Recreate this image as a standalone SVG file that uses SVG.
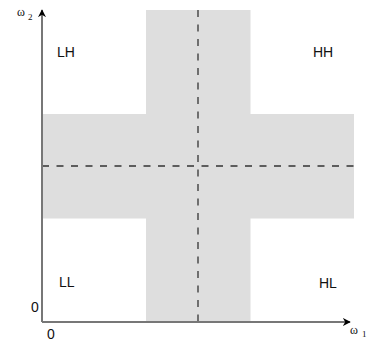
<svg xmlns="http://www.w3.org/2000/svg" width="368" height="342" viewBox="0 0 368 342">
<style>
.band{fill:#dedede;stroke:none}
.dash{stroke:#333;stroke-width:1.3;stroke-dasharray:7 7.5;fill:none}
.axis{stroke:#777;stroke-width:2;fill:none}
.lbl{font-family:"Liberation Sans",Arial,sans-serif;font-size:14px;fill:#111}
.om{font-family:"Liberation Serif","Times New Roman",serif;font-size:12px;fill:#111}
.sub{font-family:"Liberation Serif","Times New Roman",serif;font-size:9px;fill:#111}
</style>
<defs>
<marker id="arr" viewBox="0 0 10 10" refX="9" refY="5" markerWidth="8" markerHeight="8" markerUnits="userSpaceOnUse" orient="auto">
<path d="M0,0 L10,5 L0,10 L3,5 Z" fill="#000"/>
</marker>
</defs>
<g id="bands">
<rect class="band" x="146" y="10" width="104.5" height="312"/>
<rect class="band" x="42" y="114" width="312" height="104.5"/>
</g>
<g id="connectors">
<line class="dash" x1="198" y1="10" x2="198" y2="322"/>
<line class="dash" x1="42" y1="166" x2="354" y2="166"/>
<line class="axis" x1="42" y1="322" x2="42" y2="10" marker-end="url(#arr)"/>
<line class="axis" x1="42" y1="322" x2="350" y2="322" marker-end="url(#arr)"/>
</g>
<g id="LH"><text class="lbl" x="57" y="57">LH</text></g>
<g id="HH"><text class="lbl" x="313" y="57">HH</text></g>
<g id="LL"><text class="lbl" x="59" y="287">LL</text></g>
<g id="HL"><text class="lbl" x="319" y="288">HL</text></g>
<g id="origin">
<text class="lbl" x="31" y="312">0</text>
<text class="lbl" x="47" y="339">0</text>
</g>
<g id="w2"><text class="om" x="17" y="16">ω</text><text class="sub" x="28" y="19.5">2</text></g>
<g id="w1"><text class="om" x="350" y="334">ω</text><text class="sub" x="362" y="337">1</text></g>
</svg>
